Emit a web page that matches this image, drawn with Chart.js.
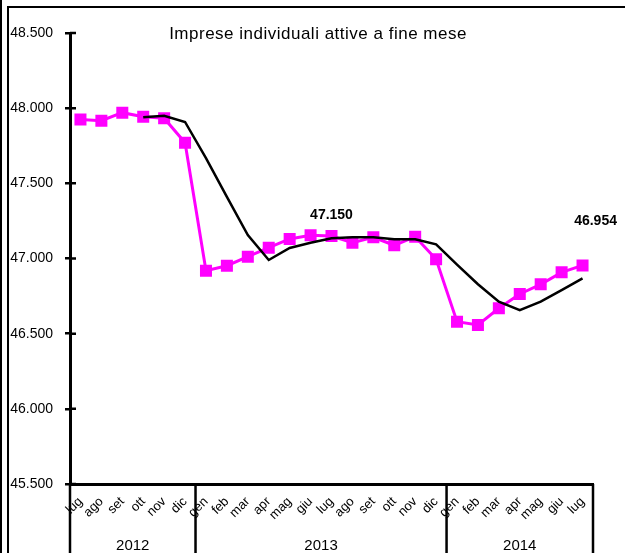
<!DOCTYPE html>
<html>
<head>
<meta charset="utf-8">
<script src="https://cdn.jsdelivr.net/npm/chart.js@4/dist/chart.umd.min.js"></script>
<style>
html, body { margin: 0; padding: 0; background: #fff; }
#wrap { width: 625px; height: 553px; position: relative; }
</style>
</head>
<body>
<div id="wrap"><canvas id="chart"></canvas></div>
<script>
// Months from lug 2012 to lug 2014
const mesi = ['lug', 'ago', 'set', 'ott', 'nov', 'dic',
    'gen', 'feb', 'mar', 'apr', 'mag', 'giu', 'lug', 'ago', 'set', 'ott', 'nov', 'dic',
    'gen', 'feb', 'mar', 'apr', 'mag', 'giu', 'lug'];
const anni = ['2012', '2013', '2014'];
const mesiPerAnno = [6, 12, 7];

// Imprese individuali attive a fine mese
const imprese = [47925, 47917, 47970, 47943, 47933, 47770,
    46919, 46952, 47012, 47072, 47130, 47155, 47150, 47105, 47141, 47088, 47145, 46995,
    46580, 46558, 46669, 46764, 46828, 46908, 46954];
// Media mobile (linea nera)
const mediaMobile = [null, null, null, 47939, 47950, 47908,
    47668, 47410, 47156, 46990, 47070, 47105, 47134, 47141, 47141, 47128, 47128, 47094,
    46959, 46829, 46713, 46657, 46713, 46790, 46868];
// Points with a value label
const etichette = [12, 24];

const yTicks = [45500, 46000, 46500, 47000, 47500, 48000, 48500];

const FONT = '"Liberation Sans", Arial, sans-serif';

function formatNum(v) {
    return String(v).replace(/\B(?=(\d{3})+(?!\d))/g, '.');
}

// Frame, title, year groups, value labels
const decorations = {
    id: 'decorations',
    afterDraw(chart) {
        const ctx = chart.ctx;
        const x = chart.scales.x;
        const y = chart.scales.y;
        const area = chart.chartArea;
        ctx.save();
        ctx.strokeStyle = '#000';
        ctx.lineWidth = 2;
        ctx.beginPath();
        ctx.moveTo(1, 0); ctx.lineTo(1, 553);
        ctx.moveTo(8, 553); ctx.lineTo(8, 7); ctx.lineTo(625, 7);
        ctx.stroke();

        // inner half of y ticks
        ctx.lineWidth = 2.5;
        ctx.beginPath();
        yTicks.forEach(function (t) {
            const py = y.getPixelForValue(t);
            ctx.moveTo(area.left, py);
            ctx.lineTo(area.left + 6, py);
        });
        ctx.stroke();

        // title
        ctx.fillStyle = '#000';
        ctx.font = '17px ' + FONT;
        ctx.letterSpacing = '0.5px';
        ctx.textAlign = 'center';
        ctx.textBaseline = 'middle';
        ctx.fillText('Imprese individuali attive a fine mese', 318, 34);
        ctx.letterSpacing = '0px';

        // year groups
        const step = x.getPixelForValue(1) - x.getPixelForValue(0);
        ctx.lineWidth = 2.5;
        ctx.font = '15px ' + FONT;
        let start = 0;
        ctx.beginPath();
        anni.forEach(function (anno, i) {
            const x0 = x.getPixelForValue(start) - step / 2;
            const x1 = x.getPixelForValue(start + mesiPerAnno[i] - 1) + step / 2;
            ctx.moveTo(x0, area.bottom); ctx.lineTo(x0, 553);
            ctx.moveTo(x1, area.bottom); ctx.lineTo(x1, 553);
            ctx.fillText(anno, (x0 + x1) / 2, 546);
            start += mesiPerAnno[i];
        });
        ctx.stroke();

        // value labels
        ctx.font = 'bold 14px ' + FONT;
        const meta = chart.getDatasetMeta(1);
        etichette.forEach(function (i, k) {
            const p = meta.data[i];
            const dx = k === 0 ? 0 : 13;
            const dy = k === 0 ? -21 : -44;
            ctx.fillText(formatNum(imprese[i]), p.x + dx, p.y + dy);
        });
        ctx.restore();
    }
};

const ctx = document.getElementById('chart').getContext('2d');
new Chart(ctx, {
    type: 'line',
    data: {
        labels: mesi,
        datasets: [{
            label: 'Media mobile',
            data: mediaMobile,
            borderColor: '#000',
            borderWidth: 2.5,
            pointRadius: 0,
            fill: false,
            tension: 0,
        }, {
            label: 'Imprese individuali',
            data: imprese,
            borderColor: '#ff00ff',
            backgroundColor: '#ff00ff',
            borderWidth: 3,
            pointStyle: 'rect',
            pointRadius: 8.5,
            pointBorderWidth: 0,
            fill: false,
            tension: 0,
        }]
    },
    options: {
        responsive: true,
        maintainAspectRatio: false,
        animation: false,
        layout: { padding: { top: 33, right: 32, left: 0, bottom: 0 } },
        plugins: {
            legend: { display: false },
            tooltip: { enabled: false },
        },
        scales: {
            x: {
                offset: true,
                grid: { display: false, drawTicks: false },
                border: { display: true, color: '#000', width: 3 },
                ticks: {
                    autoSkip: false,
                    minRotation: 45,
                    maxRotation: 45,
                    padding: 10,
                    color: '#000',
                    font: { family: FONT, size: 13 },
                },
                afterFit: function (scale) { scale.height = 69; },
            },
            y: {
                min: 45500,
                max: 48500,
                afterBuildTicks: function (scale) {
                    scale.ticks = yTicks.map(function (v) { return { value: v }; });
                },
                grid: { drawOnChartArea: false, drawTicks: true, tickLength: 5, lineWidth: 2.5, color: '#000' },
                border: { display: true, color: '#000', width: 3 },
                ticks: {
                    padding: 12,
                    color: '#000',
                    font: { family: FONT, size: 14 },
                    callback: function (v) { return formatNum(v); },
                },
                afterFit: function (scale) { scale.width = 70; },
            }
        }
    },
    plugins: [decorations]
});
</script>
</body>
</html>
